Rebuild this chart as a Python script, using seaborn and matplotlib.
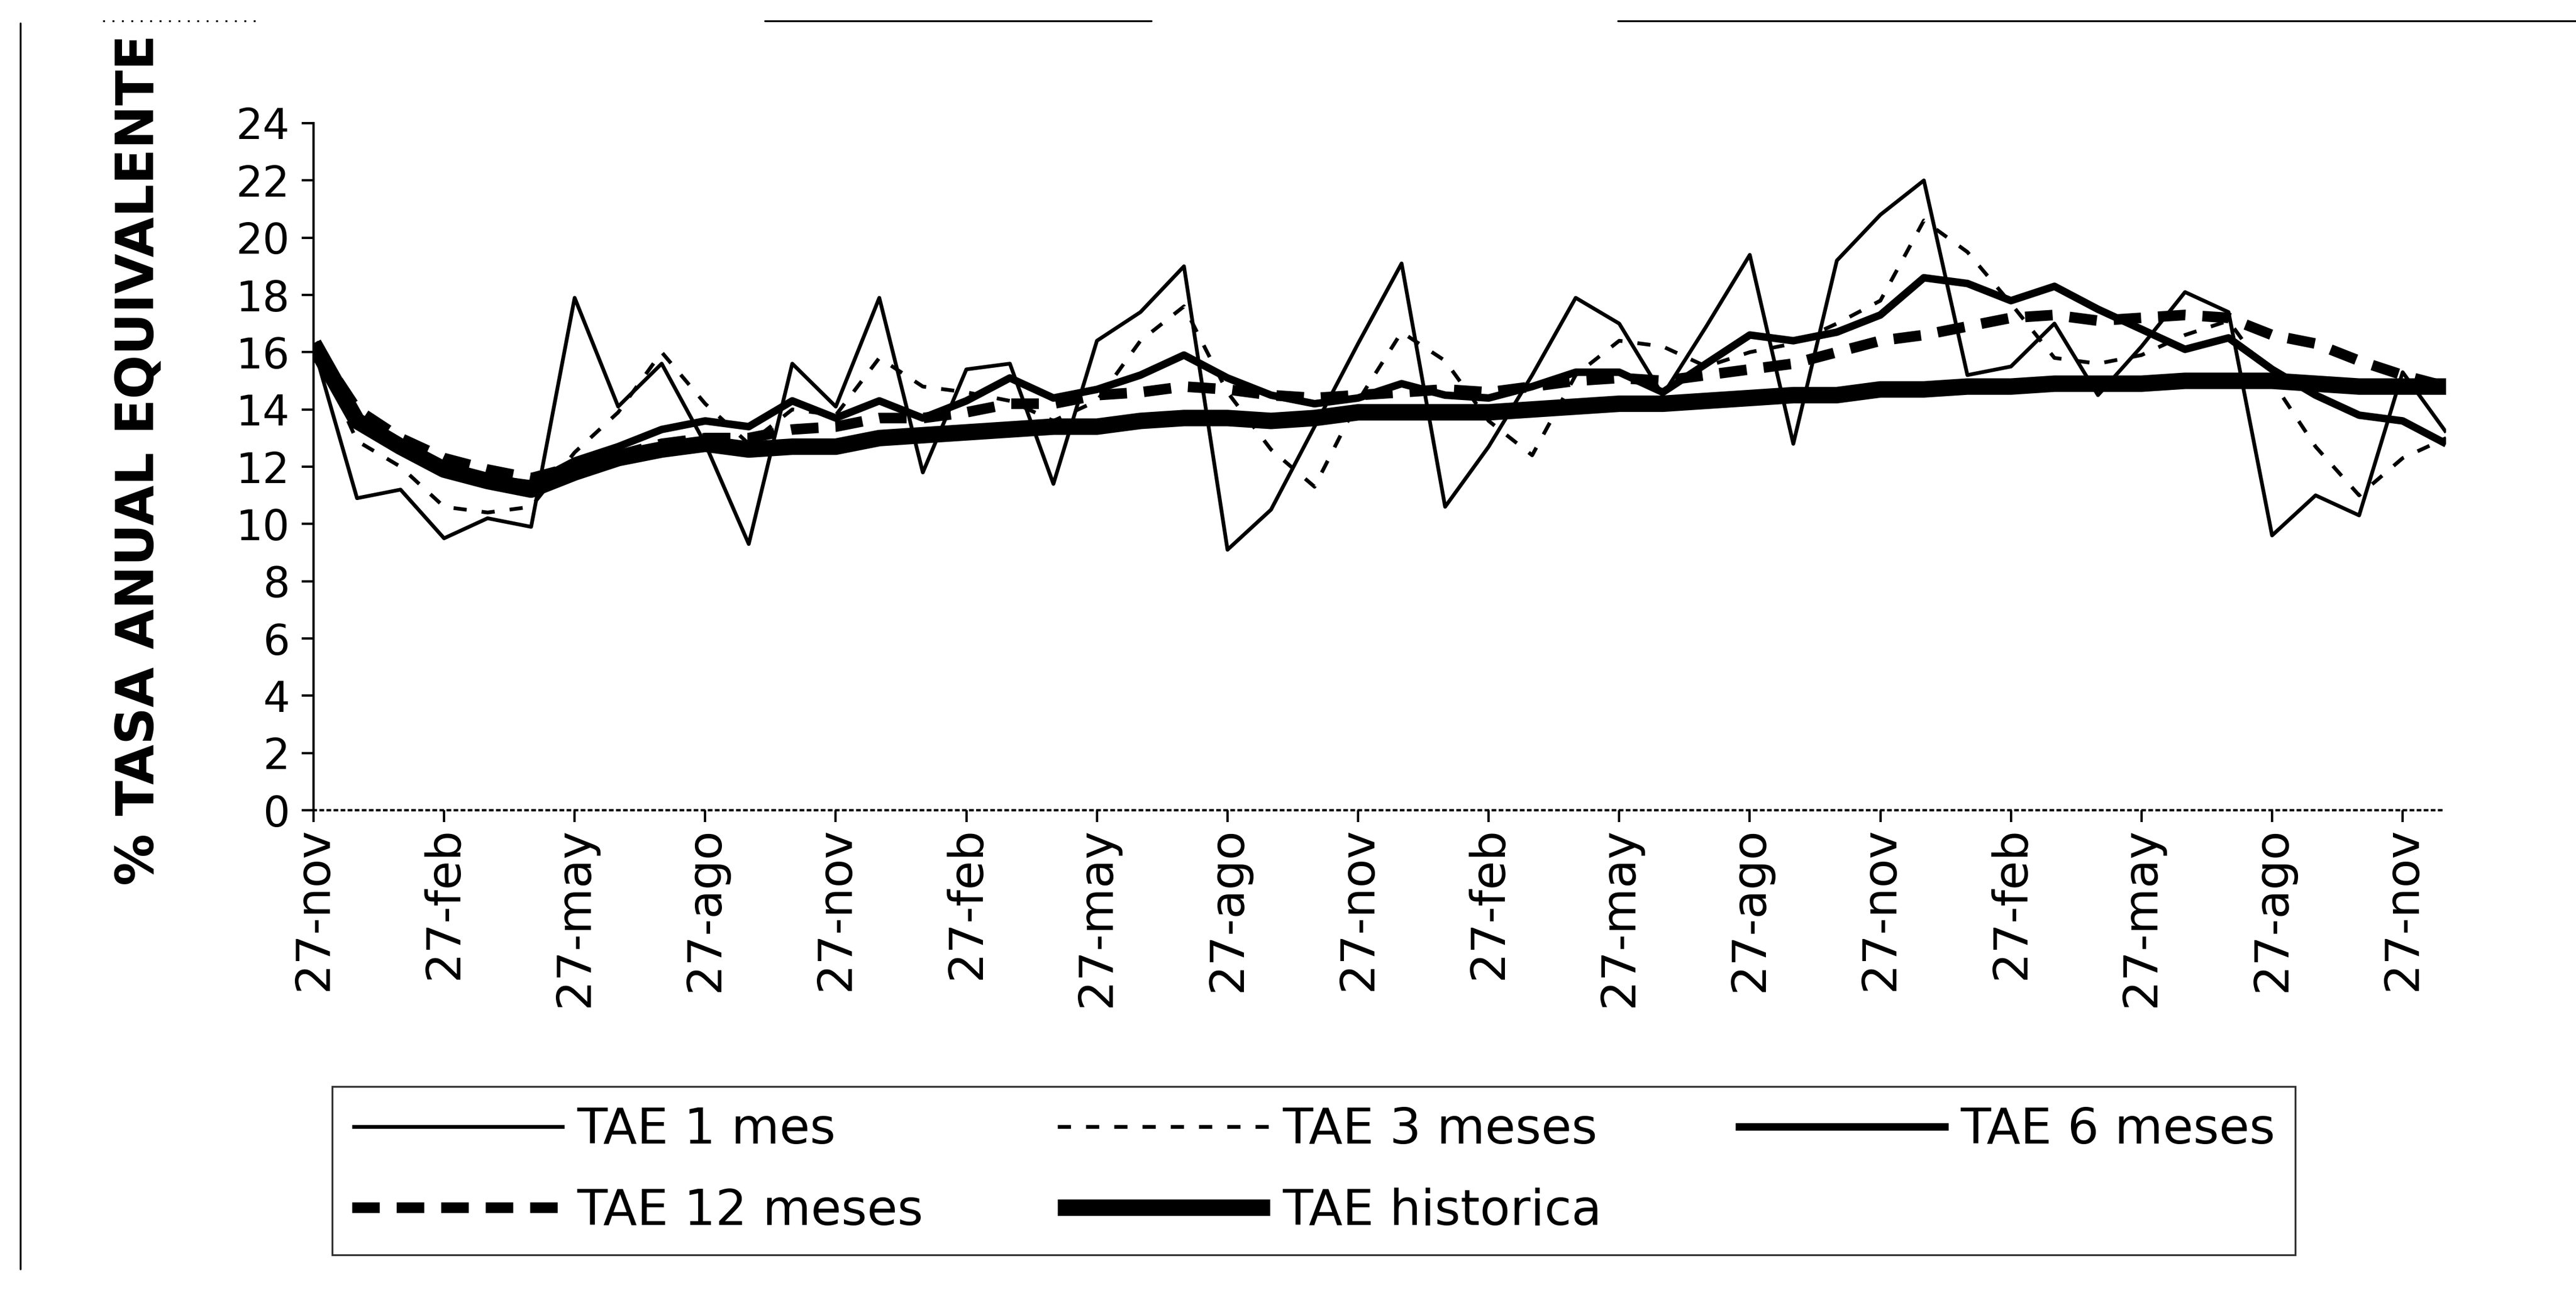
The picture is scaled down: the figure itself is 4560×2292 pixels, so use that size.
import matplotlib
matplotlib.use("Agg")
import matplotlib.pyplot as plt
from matplotlib.lines import Line2D
import seaborn as sns

# 50 observaciones mensuales, etiquetas cada 3 meses
meses = list(range(50))
pos_etiquetas = list(range(0, 49, 3))
etiquetas = ["27-nov", "27-feb", "27-may", "27-ago"] * 4 + ["27-nov"]
valores_y = list(range(0, 25, 2))

tae_1 = [16.2, 10.9, 11.2, 9.5, 10.2, 9.9, 17.9, 14.1, 15.6, 12.8,
         9.3, 15.6, 14.1, 17.9, 11.8, 15.4, 15.6, 11.4, 16.4, 17.4,
         19.0, 9.1, 10.5, 13.4, 16.3, 19.1, 10.6, 12.7, 15.2, 17.9,
         17.0, 14.5, 16.9, 19.4, 12.8, 19.2, 20.8, 22.0, 15.2, 15.5,
         17.0, 14.5, 16.2, 18.1, 17.4, 9.6, 11.0, 10.3, 15.3, 13.2]

tae_3 = [16.3, 12.9, 12.0, 10.6, 10.4, 10.6, 12.5, 13.9, 16.0, 14.2,
         12.8, 14.0, 13.8, 15.8, 14.8, 14.6, 14.3, 13.6, 14.3, 16.4,
         17.6, 14.6, 12.6, 11.3, 14.3, 16.7, 15.7, 13.6, 12.4, 15.2,
         16.4, 16.2, 15.5, 16.0, 16.3, 17.0, 17.8, 20.6, 19.5, 17.7,
         15.8, 15.6, 15.9, 16.6, 17.1, 15.0, 12.7, 11.0, 12.3, 13.0]

tae_6 = [16.3, 13.7, 12.8, 12.0, 11.6, 11.4, 12.2, 12.7, 13.3, 13.6,
         13.4, 14.3, 13.7, 14.3, 13.7, 14.3, 15.1, 14.4, 14.7, 15.2,
         15.9, 15.1, 14.5, 14.2, 14.4, 14.9, 14.5, 14.4, 14.8, 15.3,
         15.3, 14.6, 15.6, 16.6, 16.4, 16.7, 17.3, 18.6, 18.4, 17.8,
         18.3, 17.5, 16.8, 16.1, 16.5, 15.4, 14.5, 13.8, 13.6, 12.8]

tae_12 = [16.3, 14.0, 13.0, 12.3, 11.9, 11.6, 12.0, 12.4, 12.8, 13.0,
          13.0, 13.3, 13.4, 13.7, 13.7, 13.9, 14.2, 14.2, 14.5, 14.6,
          14.8, 14.7, 14.5, 14.4, 14.5, 14.6, 14.7, 14.6, 14.8, 15.0,
          15.1, 15.0, 15.2, 15.4, 15.6, 16.0, 16.4, 16.6, 16.9, 17.2,
          17.3, 17.1, 17.2, 17.3, 17.2, 16.6, 16.3, 15.7, 15.2, 14.8]

tae_hist = [16.3, 13.6, 12.7, 11.9, 11.5, 11.2, 11.8, 12.3, 12.6, 12.8,
            12.6, 12.7, 12.7, 13.0, 13.1, 13.2, 13.3, 13.4, 13.4, 13.6,
            13.7, 13.7, 13.6, 13.7, 13.9, 13.9, 13.9, 13.9, 14.0, 14.1,
            14.2, 14.2, 14.3, 14.4, 14.5, 14.5, 14.7, 14.7, 14.8, 14.8,
            14.9, 14.9, 14.9, 15.0, 15.0, 15.0, 14.9, 14.8, 14.8, 14.8]

sns.set_style("white")
plt.rcParams["font.family"] = ["DejaVu Sans"]
plt.rcParams["text.color"] = "black"

fig = plt.figure(figsize=(15.2, 7.64), dpi=300)
ax = fig.add_axes([0.1217, 0.3743, 0.8279, 0.5306])

# nombre, valores, grosor, estilo
series = [
    ("TAE 1 mes", tae_1, 1.6, "-"),
    ("TAE 3 meses", tae_3, 1.6, (0, (3.5, 4))),
    ("TAE 6 meses", tae_6, 3.2, "-"),
    ("TAE 12 meses", tae_12, 4.5, (0, (2.6, 1.6))),
    ("TAE historica", tae_hist, 7.0, "-"),
]
for k, (nombre, valores, lw, ls) in enumerate(series):
    sns.lineplot(x=meses, y=valores, ax=ax, color="black", linewidth=lw,
                 linestyle=ls, label=nombre, legend=False, zorder=2 + k,
                 solid_capstyle="butt", dash_capstyle="butt")

ax.set_xlim(0, 49)
ax.set_ylim(0, 24)
ax.set_xticks(pos_etiquetas)
ax.set_xticklabels(etiquetas, rotation=90, fontsize=20)
ax.set_yticks(valores_y)
ax.set_yticklabels([str(v) for v in valores_y], fontsize=18)
ax.tick_params(axis="both", direction="out", bottom=True, left=True,
               length=5, width=1, color="black", labelcolor="black")
ax.tick_params(axis="x", pad=2)
ax.tick_params(axis="y", pad=5)

ax.set_xlabel("")
ax.set_ylabel("% TASA ANUAL EQUIVALENTE", fontsize=22, fontweight="bold",
              color="black")
ax.yaxis.set_label_coords(-0.070, 0.51)

for lado in ["top", "right"]:
    ax.spines[lado].set_visible(False)
ax.spines["left"].set_color("black")
ax.spines["left"].set_linewidth(1.0)
ax.spines["bottom"].set_color("black")
ax.spines["bottom"].set_linewidth(1.0)
ax.spines["bottom"].set_linestyle((0, (1, 2)))

# leyenda: fila 1 -> 1, 3, 6 meses; fila 2 -> 12 meses, historica
handles, labels = ax.get_legend_handles_labels()
orden = [0, 3, 1, 4, 2]
leg = fig.legend([handles[i] for i in orden], [labels[i] for i in orden],
                 loc="center", bbox_to_anchor=(0.129, 0.029, 0.762, 0.134),
                 mode="expand", borderaxespad=0, ncol=3, fontsize=21,
                 handlelength=4.3, handletextpad=0.25, labelspacing=0.68,
                 borderpad=0.4, columnspacing=1.0, frameon=True,
                 fancybox=False)
leg.get_frame().set_edgecolor("black")
leg.get_frame().set_linewidth(0.8)
for t in leg.get_texts():
    t.set_color("black")

# marco del grafico (restos del escaneo)
fig.add_artist(Line2D([0.0079, 0.0079], [0.02, 0.982], transform=fig.transFigure,
                      color="black", lw=0.8))
for x0, x1 in [(0.04, 0.10), (0.297, 0.447), (0.628, 1.0)]:
    fig.add_artist(Line2D([x0, x1], [0.984, 0.984], transform=fig.transFigure,
                          color="black", lw=0.8,
                          linestyle="-" if x0 > 0.2 else (0, (1, 4))))

fig.savefig("out.png", dpi=300, facecolor="white")
